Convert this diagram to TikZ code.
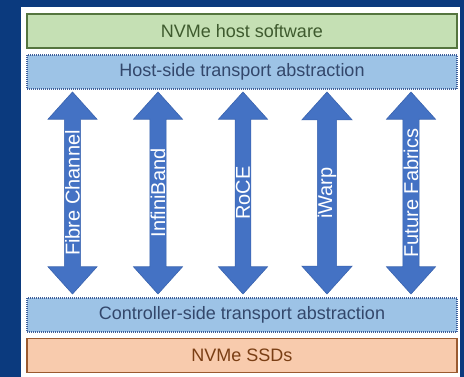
\documentclass[tikz,border=0pt]{standalone}
\usepackage{fontspec}
\setmainfont{Liberation Sans}
\usetikzlibrary{shapes.arrows}
\definecolor{bgblue}{HTML}{0B3A7E}
\definecolor{greenfill}{HTML}{C5E0B4}
\definecolor{greenline}{HTML}{55753F}
\definecolor{greentext}{HTML}{3E5A2E}
\definecolor{bluefill}{HTML}{9DC3E6}
\definecolor{blueline}{HTML}{3F5F9A}
\definecolor{bluetext}{HTML}{33476B}
\definecolor{orangefill}{HTML}{F8CBAD}
\definecolor{orangeline}{HTML}{9A5A30}
\definecolor{orangetext}{HTML}{7A3E14}
\definecolor{arrowblue}{HTML}{4472C4}
\definecolor{arrowline}{HTML}{3A63AE}
\begin{document}
\begin{tikzpicture}[x=1pt,y=-1pt,
  layer/.style={minimum width=430pt,minimum height=34pt,inner sep=0pt,anchor=center,font=\fontsize{18}{20}\selectfont},
  solidlayer/.style={layer,line width=1.8pt},
  dotlayer/.style={layer,draw=blueline,fill=bluefill,dash pattern=on 1pt off 1pt,line width=1.1pt,text=bluetext},
  fabric/.style={double arrow,draw=arrowline,fill=arrowblue,line width=0.6pt,
     minimum height=202pt,minimum width=49pt,double arrow head extend=15.5pt,
     double arrow tip angle=84,inner sep=0pt,rotate=90,
     text=white,font=\fontsize{20}{22}\selectfont}]
\fill[bgblue] (0,0) rectangle (464,377);
\fill[white] (21,7) rectangle (460,377);
\node[solidlayer,draw=greenline,fill=greenfill,text=greentext] (host) at (242,31) {NVMe host software};
\node[dotlayer] (hta) at (242,72) {Host-side transport abstraction};
\node[dotlayer] (cta) at (242,315) {Controller-side transport abstraction};
\node[solidlayer,draw=orangeline,fill=orangefill,text=orangetext] (ssd) at (242,355.5) {NVMe SSDs};
\node[fabric] (fc) at (72.5,193) {Fibre Channel};
\node[fabric] (ib) at (158,193) {InfiniBand};
\node[fabric] (roce) at (243,193) {RoCE};
\node[fabric] (iw) at (327,193) {iWarp};
\node[fabric] (ff) at (411,193) {Future Fabrics};
\end{tikzpicture}
\end{document}
